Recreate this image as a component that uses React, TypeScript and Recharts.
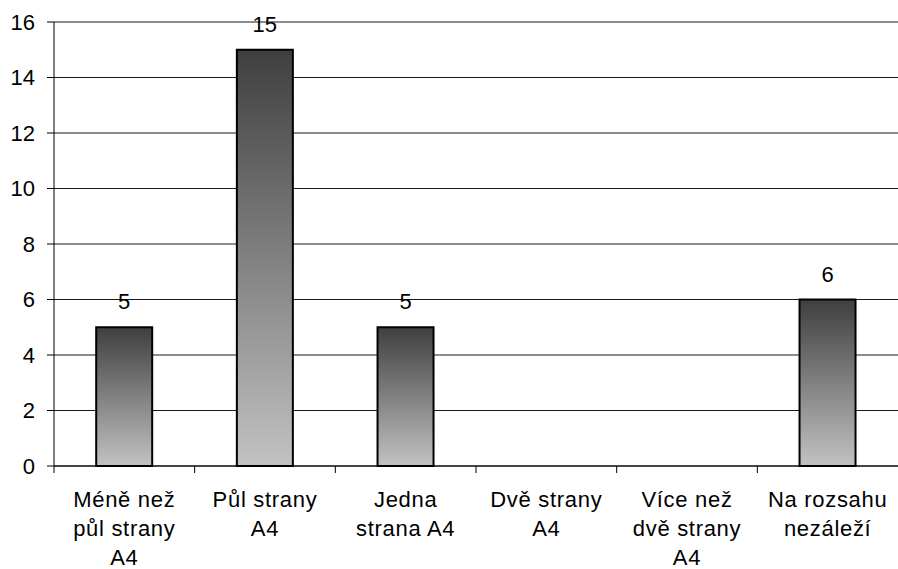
import { BarChart, Bar, XAxis, YAxis, CartesianGrid, LabelList } from "recharts";

const categories = [
  "Méně než\npůl strany\nA4",
  "Půl strany\nA4",
  "Jedna\nstrana A4",
  "Dvě strany\nA4",
  "Více než\ndvě strany\nA4",
  "Na rozsahu\nnezáleží",
];
const counts = [5, 15, 5, 0, 0, 6];
const yTicks = [0, 2, 4, 6, 8, 10, 12, 14, 16];

const data = categories.map((name, i) => ({ name, count: counts[i] }));

const FONT = "'Liberation Sans', Arial, sans-serif";

// category label split on line breaks, plus a tick mark on the left band edge
const CategoryTick = (props: any) => {
  const { x, y, payload } = props;
  const lines = String(payload.value).split("\n");
  const edge = x - (payload.offset ?? 0);
  return (
    <g>
      <line x1={edge} y1={y} x2={edge} y2={y + 7} stroke="#000" />
      <text
        x={x}
        y={y + 41}
        textAnchor="middle"
        fontSize={22}
        letterSpacing={0.7}
        fill="#000"
        fontFamily={FONT}
      >
        {lines.map((l: string, i: number) => (
          <tspan key={i} x={x} dy={i === 0 ? 0 : 29}>
            {l}
          </tspan>
        ))}
      </text>
    </g>
  );
};

const App = () => (
  <div style={{ position: "absolute", left: 0, top: 0 }}>
    <BarChart
      width={898}
      height={569}
      data={data}
      margin={{ top: 22, right: 0, bottom: 0, left: 0 }}
      barCategoryGap="30%"
    >
      <defs>
        <linearGradient id="barFill" x1="0" y1="0" x2="0" y2="1">
          <stop offset="0%" stopColor="#3f3f3f" />
          <stop offset="100%" stopColor="#c2c2c2" />
        </linearGradient>
      </defs>
      <CartesianGrid vertical={false} stroke="#000" strokeOpacity={0.9} />
      <XAxis
        dataKey="name"
        height={103}
        axisLine={{ stroke: "#000" }}
        tickLine={false}
        tickSize={0}
        tickMargin={0}
        interval={0}
        tick={<CategoryTick />}
      />
      <YAxis
        width={54}
        domain={[0, 16]}
        ticks={yTicks}
        interval={0}
        axisLine={{ stroke: "#000" }}
        tickLine={{ stroke: "#000" }}
        tickSize={7}
        tickMargin={12}
        tick={{ fontSize: 22, fill: "#000", fontFamily: FONT }}
      />
      <Bar
        dataKey="count"
        fill="url(#barFill)"
        stroke="#000"
        strokeWidth={2}
        isAnimationActive={false}
      >
        <LabelList
          dataKey="count"
          position="top"
          offset={18}
          formatter={(v: any) => (v ? v : "")}
          style={{ fontSize: 22, fill: "#000", fontFamily: FONT }}
        />
      </Bar>
    </BarChart>
  </div>
);

export default App;
